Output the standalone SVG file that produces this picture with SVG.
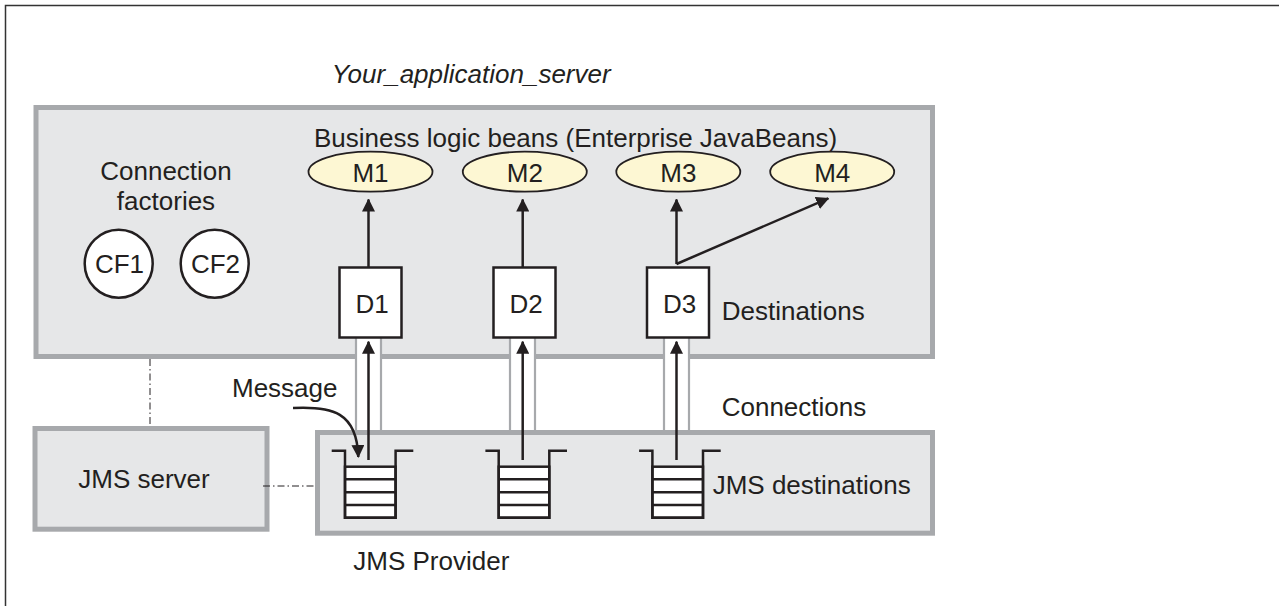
<svg xmlns="http://www.w3.org/2000/svg" width="1279" height="606" viewBox="0 0 1279 606">
<style>
.t{font-family:"Liberation Sans",Arial,sans-serif;font-size:26px;fill:#231f20}
.c{text-anchor:middle}
.box{fill:#e6e7e8;stroke:#a7a9ac;stroke-width:5}
.ell{fill:#fdf7d3;stroke:#231f20;stroke-width:1.8}
.circ{fill:#fff;stroke:#231f20;stroke-width:2.5}
.dbox{fill:#fff;stroke:#231f20;stroke-width:2.5}
.arr{fill:none;stroke:#231f20;stroke-width:2.5;marker-end:url(#ah)}
.dd{fill:none;stroke:#231f20;stroke-width:1;stroke-dasharray:7 3 1.5 3}
.lane{fill:#fff;stroke:none}
.laneL{stroke:#a7a9ac;stroke-width:2.2}
.q{fill:none;stroke:#231f20;stroke-width:2.5}
.qf{fill:#fff;stroke:#231f20;stroke-width:2.5}
</style>
<defs>
<marker id="ah" markerUnits="userSpaceOnUse" markerWidth="13" markerHeight="13" refX="12" refY="6.5" orient="auto">
<path d="M0,0 L13,6.5 L0,13 z" fill="#231f20"/>
</marker>
<g id="queue">
<rect class="qf" x="-25.3" y="466.7" width="50.6" height="51"/>
<path class="q" d="M-25.3,479.3 H25.3 M-25.3,492.3 H25.3 M-25.3,505 H25.3"/>
<path class="q" d="M-38.6,450.7 H-25.3 V517.7 H25.3 V450.7 H43"/>
</g>
</defs>

<rect id="frame" x="5.5" y="5.5" width="1290" height="620" fill="#fff" stroke="#333" stroke-width="1.5"/>

<text id="title" class="t" x="331.7" y="83.3" font-style="italic">Your_application_server</text>

<g id="app-server">
<rect class="box" x="36" y="107.5" width="896.5" height="249"/>
<text class="t" x="314" y="146.7">Business logic beans (Enterprise JavaBeans)</text>
<text class="t c" x="166" y="180">Connection</text>
<text class="t c" x="166" y="210">factories</text>
<text class="t" x="721.7" y="320">Destinations</text>
</g>

<g id="jms-server">
<rect class="box" x="35" y="428.5" width="232" height="100.7"/>
<text class="t c" x="144" y="488.3">JMS server</text>
</g>

<g id="jms-provider">
<rect class="box" x="317.5" y="432.5" width="615" height="100.7"/>
<text class="t" x="712.7" y="494">JMS destinations</text>
<text class="t" x="353.3" y="570">JMS Provider</text>
</g>

<g id="lanes">
<rect class="lane" x="356" y="338" width="25" height="92"/>
<path class="laneL" d="M356,338 V430 M381,338 V430"/>
<rect class="lane" x="510" y="338" width="25" height="92"/>
<path class="laneL" d="M510,338 V430 M535,338 V430"/>
<rect class="lane" x="664" y="338" width="25" height="92"/>
<path class="laneL" d="M664,338 V430 M689,338 V430"/>
<text class="t" x="721.7" y="416">Connections</text>
</g>

<g id="cf1"><circle class="circ" cx="118.7" cy="263.7" r="34"/><text class="t c" x="119.5" y="273.3">CF1</text></g>
<g id="cf2"><circle class="circ" cx="214.7" cy="263.7" r="34"/><text class="t c" x="215.5" y="273.3">CF2</text></g>

<g id="m1"><ellipse class="ell" cx="370.5" cy="171.7" rx="62" ry="20"/><text class="t c" x="370.5" y="181.7">M1</text></g>
<g id="m2"><ellipse class="ell" cx="524.8" cy="171.7" rx="62" ry="20"/><text class="t c" x="524.8" y="181.7">M2</text></g>
<g id="m3"><ellipse class="ell" cx="678.3" cy="171.7" rx="62" ry="20"/><text class="t c" x="678.3" y="181.7">M3</text></g>
<g id="m4"><ellipse class="ell" cx="832.2" cy="171.7" rx="62" ry="20"/><text class="t c" x="832.2" y="181.7">M4</text></g>

<g id="d1"><rect class="dbox" x="339.5" y="267.5" width="62" height="70"/><text class="t c" x="372" y="312.7">D1</text></g>
<g id="d2"><rect class="dbox" x="493.5" y="267.5" width="62" height="70"/><text class="t c" x="526" y="312.7">D2</text></g>
<g id="d3"><rect class="dbox" x="647" y="267.5" width="62" height="70"/><text class="t c" x="679.5" y="312.7">D3</text></g>

<g id="q1"><use href="#queue" x="370.3"/></g>
<g id="q2"><use href="#queue" x="524"/></g>
<g id="q3"><use href="#queue" x="677.7"/></g>

<g id="connectors">
<path class="arr" d="M368.5,267 V199.5"/>
<path class="arr" d="M522.7,267 V199.5"/>
<path class="arr" d="M676.5,264 V199.5"/>
<path class="arr" d="M676.5,264 L828.3,198.3"/>
<path class="arr" d="M368.5,460 V341.7"/>
<path class="arr" d="M522.7,460 V341.7"/>
<path class="arr" d="M676.5,460 V341.7"/>
<path class="arr" d="M293,408 C332,406 357,412 358.3,457"/>
<path class="dd" d="M150,359 V426"/>
<path class="dd" d="M263,486 H315"/>
</g>
<text id="message" class="t" x="232" y="396.7">Message</text>
</svg>
